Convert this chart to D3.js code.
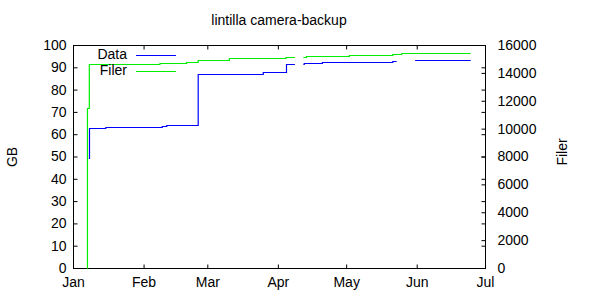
<!DOCTYPE html>
<html>
<head>
<meta charset="utf-8">
<script src="https://cdn.jsdelivr.net/npm/d3@7"></script>
<style>
  body { margin: 0; background: #fff; }
  svg { display: block; font-family: "Liberation Sans", Arial, sans-serif; }
</style>
</head>
<body>
<script>
var title = "lintilla camera-backup";
var monthTicks = ["2011-01-01", "2011-02-01", "2011-03-01", "2011-04-01", "2011-05-01", "2011-06-01", "2011-07-01"];

// Data (GB), left axis. null = gap in the line
var dataDates = ["2011-01-07T22:00", "2011-01-08T06:00", "2011-01-15T10:00", "2011-02-09T05:00", "2011-02-11T05:00",
    "2011-02-25T00:00", "2011-03-25T14:00", "2011-04-04T19:00", "2011-04-08T12:00", "2011-04-10T00:00",
    "2011-04-12T05:00", "2011-04-12T14:00", "2011-04-20T14:00", "2011-05-21T12:00", "2011-05-23T05:00",
    "2011-05-26T00:00", "2011-05-31T07:00", "2011-06-24T17:00"];
var dataGB = [49.2, 62.6, 63.1, 63.7, 64.1,
    87.2, 87.9, 91.5, 91.5, null,
    91.3, 91.8, 92.2, 92.7, 92.7,
    null, 93.1, 93.1];

// Filer (file count), right axis
var filerDates = ["2011-01-07T07:00", "2011-01-07T08:30", "2011-01-08T04:00", "2011-02-08T05:00", "2011-02-19T22:00",
    "2011-02-25T00:00", "2011-03-10T17:00", "2011-04-04T14:00", "2011-04-08T12:00", "2011-04-10T00:00",
    "2011-04-12T05:00", "2011-04-13T14:00", "2011-05-02T10:00", "2011-05-21T12:00", "2011-05-25T10:00",
    "2011-06-24T17:00"];
var filerCount = [0, 11460, 14640, 14730, 14800,
    14920, 15050, 15140, 15140, null,
    15120, 15210, 15270, 15330, 15400,
    15400];

var parse = d3.isoParse;
var width = 600, height = 300;
var plotLeft = 73, plotRight = 485, plotTop = 45, plotBottom = 268;

var svg = d3.select('body')
    .append('svg')
    .attr('width', width)
    .attr('height', height);

var x = d3.scaleTime()
    .domain([parse(monthTicks[0]), parse(monthTicks[monthTicks.length - 1])])
    .range([plotLeft, plotRight]);
var y = d3.scaleLinear().domain([0, 100]).range([plotBottom, plotTop]);
var y2 = d3.scaleLinear().domain([0, 16000]).range([plotBottom, plotTop]);

function styleAxis(g) {
    g.select('.domain').remove();
    g.selectAll('line').attr('stroke', '#000');
    g.selectAll('text').attr('font-size', 14).attr('fill', '#000').attr('font-family', null);
}

// bottom axis
svg.append('g')
    .attr('transform', `translate(0,${plotBottom + 0.5})`)
    .call(d3.axisBottom(x).tickValues(monthTicks.map(parse)).tickFormat(d3.timeFormat('%b'))
        .tickSizeInner(-4).tickSizeOuter(0).tickPadding(9))
    .call(styleAxis);
// top mirror ticks
svg.append('g')
    .attr('transform', `translate(0,${plotTop + 0.5})`)
    .call(d3.axisTop(x).tickValues(monthTicks.map(parse)).tickFormat('')
        .tickSizeInner(-4).tickSizeOuter(0))
    .call(styleAxis);
// left axis
svg.append('g')
    .attr('transform', `translate(${plotLeft + 0.5},0)`)
    .call(d3.axisLeft(y).ticks(10).tickSizeInner(-4).tickSizeOuter(0).tickPadding(7))
    .call(styleAxis);
// right mirror of left ticks
svg.append('g')
    .attr('transform', `translate(${plotRight + 0.5},0)`)
    .call(d3.axisRight(y).ticks(10).tickFormat('').tickSizeInner(-4).tickSizeOuter(0))
    .call(styleAxis);
// right y2 axis
svg.append('g')
    .attr('transform', `translate(${plotRight + 0.5},0)`)
    .call(d3.axisRight(y2).tickValues(d3.range(0, 16001, 2000)).tickFormat(d3.format('d'))
        .tickSizeInner(-4).tickSizeOuter(0).tickPadding(12))
    .call(styleAxis);

// border
svg.append('rect')
    .attr('x', plotLeft + 0.5).attr('y', plotTop + 0.5)
    .attr('width', plotRight - plotLeft).attr('height', plotBottom - plotTop)
    .attr('fill', 'none').attr('stroke', '#000');

var lineData = d3.line()
    .defined(d => d[1] != null)
    .x(d => x(parse(d[0])))
    .y(d => Math.round(y(d[1])) + 0.5)
    .curve(d3.curveStepAfter);
var lineFiler = d3.line()
    .defined(d => d[1] != null)
    .x(d => x(parse(d[0])))
    .y(d => Math.round(y2(d[1])) + 0.5)
    .curve(d3.curveStepAfter);

svg.append('path')
    .datum(dataDates.map((d, i) => [d, dataGB[i]]))
    .attr('d', lineData)
    .attr('fill', 'none')
    .attr('stroke', '#0000ff')
    .attr('stroke-width', 1.2);

svg.append('path')
    .datum(filerDates.map((d, i) => [d, filerCount[i]]))
    .attr('d', lineFiler)
    .attr('fill', 'none')
    .attr('stroke', '#00ee00')
    .attr('stroke-width', 1.2);

// title and axis labels
svg.append('text')
    .text(title)
    .attr('x', (plotLeft + plotRight) / 2).attr('y', 25)
    .attr('text-anchor', 'middle').attr('font-size', 14);
svg.append('text')
    .text('GB')
    .attr('transform', 'translate(17,157) rotate(-90)')
    .attr('text-anchor', 'middle').attr('font-size', 14);
svg.append('text')
    .text('Filer')
    .attr('transform', 'translate(567,152) rotate(-90)')
    .attr('text-anchor', 'middle').attr('font-size', 14);

// legend
var legend = [["Data", "#0000ff", 59.3, 55.5], ["Filer", "#00ee00", 75, 71.5]];
legend.forEach(function(l) {
    svg.append('text').text(l[0])
        .attr('x', 127).attr('y', l[2])
        .attr('text-anchor', 'end').attr('font-size', 14);
    svg.append('line')
        .attr('x1', 136).attr('x2', 176)
        .attr('y1', l[3]).attr('y2', l[3])
        .attr('stroke', l[1]).attr('stroke-width', 1.2);
});
</script>
</body>
</html>
